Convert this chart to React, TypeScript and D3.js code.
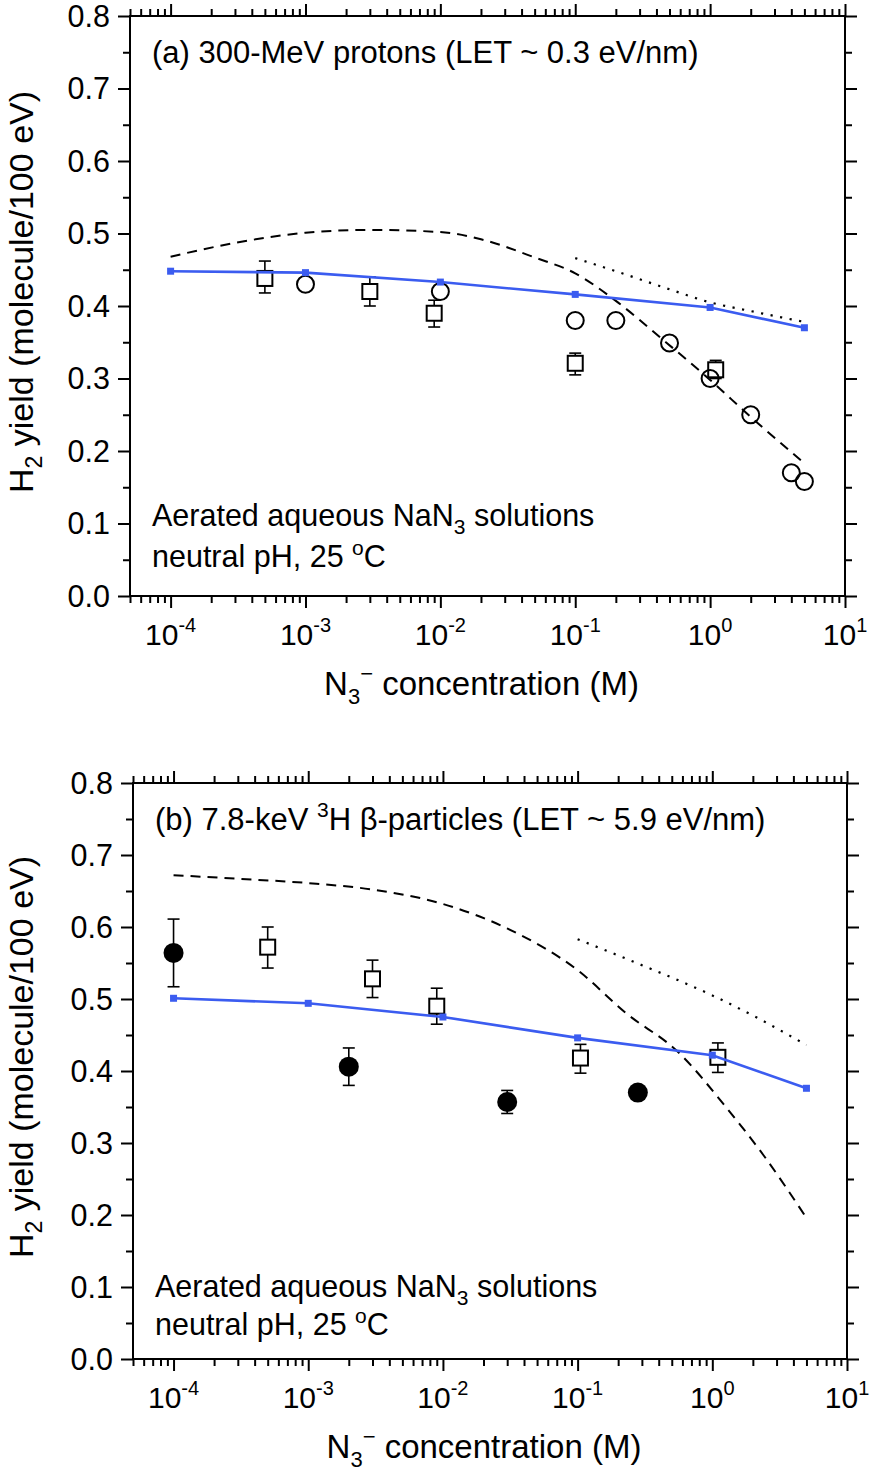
import { useEffect, useRef } from "react";
import * as d3 from "d3";

const BLUE = "#3b5cf0";
const FONT = "'Liberation Sans', Arial, Helvetica, sans-serif";

// ---- panel (a): 300-MeV protons ----
const modelConcA = [1e-4, 1e-3, 1e-2, 1e-1, 1, 5];
const modelYieldA = [0.448, 0.446, 0.433, 0.416, 0.398, 0.37];

const dashConcA = [1e-4, 3e-4, 1e-3, 3e-3, 1e-2, 2e-2, 5e-2, 0.1, 0.2, 0.45, 1, 2, 5];
const dashYieldA = [0.468, 0.487, 0.501, 0.505, 0.502, 0.492, 0.467, 0.445, 0.407, 0.353, 0.298, 0.247, 0.183];

const dotConcA = [0.1, 0.2, 0.5, 1, 2, 5];
const dotYieldA = [0.466, 0.448, 0.423, 0.405, 0.393, 0.378];

const squareConcA = [5e-4, 3e-3, 9e-3, 0.1, 1.1];
const squareYieldA = [0.438, 0.42, 0.39, 0.321, 0.312];
const squareLowA = [0.418, 0.4, 0.371, 0.305, 0.3];
const squareHighA = [0.462, 0.44, 0.408, 0.335, 0.325];

const circleConcA = [1e-3, 1e-2, 0.1, 0.2, 0.5, 1, 2, 4, 5];
const circleYieldA = [0.43, 0.42, 0.38, 0.38, 0.349, 0.3, 0.25, 0.17, 0.158];

// ---- panel (b): 7.8-keV tritium beta-particles ----
const modelConcB = [1e-4, 1e-3, 1e-2, 1e-1, 1, 5];
const modelYieldB = [0.501, 0.494, 0.475, 0.446, 0.422, 0.376];

const dashConcB = [1e-4, 3e-4, 1e-3, 3e-3, 1e-2, 3e-2, 0.1, 0.23, 0.56, 1.26, 2.4, 5];
const dashYieldB = [0.672, 0.667, 0.661, 0.652, 0.632, 0.598, 0.54, 0.48, 0.426, 0.35, 0.283, 0.196];

const dotConcB = [0.1, 0.3, 1, 2.2, 5];
const dotYieldB = [0.583, 0.547, 0.505, 0.473, 0.436];

const squareConcB = [5e-4, 3e-3, 9e-3, 0.105, 1.1];
const squareYieldB = [0.572, 0.528, 0.49, 0.418, 0.419];
const squareLowB = [0.543, 0.502, 0.465, 0.397, 0.398];
const squareHighB = [0.6, 0.554, 0.515, 0.437, 0.439];

const filledConcB = [1e-4, 2e-3, 0.03, 0.28];
const filledYieldB = [0.564, 0.406, 0.357, 0.37];
const filledLowB = [0.517, 0.38, 0.341, 0.37];
const filledHighB = [0.611, 0.432, 0.373, 0.37];

// axes
const yTicks = [0, 0.1, 0.2, 0.3, 0.4, 0.5, 0.6, 0.7, 0.8];
const xDecades = [-4, -3, -2, -1, 0, 1];

const zip = (a: number[], b: number[]) => a.map((v, i) => [v, b[i]] as [number, number]);

const panels = [
  {
    title: [
      { t: "(a) 300-MeV protons (LET ~ 0.3 eV/nm)" },
    ],
    model: zip(modelConcA, modelYieldA),
    dash: zip(dashConcA, dashYieldA),
    dot: zip(dotConcA, dotYieldA),
    squares: squareConcA.map((c, i) => ({ c, v: squareYieldA[i], lo: squareLowA[i], hi: squareHighA[i] })),
    circles: zip(circleConcA, circleYieldA),
    filled: [] as { c: number; v: number; lo: number; hi: number }[],
    box: { left: 130, right: 845, top: 16, bottom: 596 },
    noteY: [-70, -29],
  },
  {
    title: [
      { t: "(b) 7.8-keV " },
      { t: "3", sup: true },
      { t: "H \u03b2-particles (LET ~ 5.9 eV/nm)", reset: true },
    ],
    model: zip(modelConcB, modelYieldB),
    dash: zip(dashConcB, dashYieldB),
    dot: zip(dotConcB, dotYieldB),
    squares: squareConcB.map((c, i) => ({ c, v: squareYieldB[i], lo: squareLowB[i], hi: squareHighB[i] })),
    circles: [] as [number, number][],
    filled: filledConcB.map((c, i) => ({ c, v: filledYieldB[i], lo: filledLowB[i], hi: filledHighB[i] })),
    box: { left: 133, right: 847, top: 783, bottom: 1359 },
    noteY: [-62, -24],
  },
];

const App = () => {
  const svgRef = useRef<SVGSVGElement>(null);

  useEffect(() => {
    if (!svgRef.current) return;
    const svg = d3.select(svgRef.current);
    svg.selectAll("*").remove();

    panels.forEach((p) => {
      const { left, right, top, bottom } = p.box;
      const x = d3.scaleLog().domain([5e-5, 10]).range([left, right]);
      const y = d3.scaleLinear().domain([0, 0.8]).range([bottom, top]);
      const g = svg.append("g").attr("font-family", FONT);

      // ticks
      const all = x.ticks();
      const isMajor = (v: number) => Math.abs(Math.log10(v) - Math.round(Math.log10(v))) < 1e-6;
      const major = all.filter(isMajor);
      const minor = all.filter((v) => !isMajor(v));
      const yMinor = yTicks.slice(0, -1).map((v) => v + 0.05);

      const styleAxis = (sel: d3.Selection<SVGGElement, unknown, null, undefined>) => {
        sel.select(".domain").remove();
        sel.selectAll("line").attr("stroke", "#000").attr("stroke-width", 2);
      };

      const xAxes: [typeof d3.axisBottom, number][] = [
        [d3.axisBottom, bottom],
        [d3.axisTop, top],
      ];
      xAxes.forEach(([fn, pos]) => {
        g.append("g").attr("transform", `translate(0,${pos})`)
          .call(fn(x).tickValues(major).tickSize(12).tickFormat(() => ""))
          .call(styleAxis);
        g.append("g").attr("transform", `translate(0,${pos})`)
          .call(fn(x).tickValues(minor).tickSize(7).tickFormat(() => ""))
          .call(styleAxis);
      });

      g.append("g").attr("transform", `translate(${left},0)`)
        .call(d3.axisLeft(y).tickValues(yTicks).tickSize(12).tickPadding(8).tickFormat(d3.format(".1f")))
        .call(styleAxis)
        .selectAll("text")
        .attr("font-size", 30.5)
        .attr("dy", "0.34em")
        .attr("font-family", FONT)
        .attr("fill", "#000");
      g.append("g").attr("transform", `translate(${left},0)`)
        .call(d3.axisLeft(y).tickValues(yMinor).tickSize(7).tickFormat(() => ""))
        .call(styleAxis);
      g.append("g").attr("transform", `translate(${right},0)`)
        .call(d3.axisRight(y).tickValues(yTicks).tickSize(12).tickFormat(() => ""))
        .call(styleAxis);
      g.append("g").attr("transform", `translate(${right},0)`)
        .call(d3.axisRight(y).tickValues(yMinor).tickSize(7).tickFormat(() => ""))
        .call(styleAxis);

      // frame
      g.append("rect")
        .attr("x", left).attr("y", top)
        .attr("width", right - left).attr("height", bottom - top)
        .attr("fill", "none").attr("stroke", "#000").attr("stroke-width", 2);

      // x tick labels 10^n
      xDecades.forEach((d) => {
        const t = g.append("text")
          .attr("x", x(Math.pow(10, d)))
          .attr("y", bottom + 49)
          .attr("text-anchor", "middle")
          .attr("font-size", 30);
        t.append("tspan").text("10");
        t.append("tspan").attr("font-size", 20).attr("dy", -13).text(d < 0 ? `-${-d}` : `${d}`);
      });

      // axis titles
      const xt = g.append("text")
        .attr("x", (left + right) / 2 - 6)
        .attr("y", bottom + 99)
        .attr("text-anchor", "middle")
        .attr("font-size", 33);
      xt.append("tspan").text("N");
      xt.append("tspan").attr("font-size", 22).attr("dy", 9).text("3");
      xt.append("tspan").attr("font-size", 22).attr("dy", -23).text("\u2212");
      xt.append("tspan").attr("dy", 14).text(" concentration (M)");

      const yt = g.append("text")
        .attr("transform", `translate(33,${(top + bottom) / 2 - 14}) rotate(-90)`)
        .attr("text-anchor", "middle")
        .attr("font-size", 34);
      yt.append("tspan").text("H");
      yt.append("tspan").attr("font-size", 23).attr("dy", 9).text("2");
      yt.append("tspan").attr("dy", -9).text(" yield (molecule/100 eV)");

      // panel title
      const tt = g.append("text")
        .attr("x", left + 22)
        .attr("y", top + 47)
        .attr("font-size", 31);
      p.title.forEach((s: { t: string; sup?: boolean; reset?: boolean }) => {
        const sp = tt.append("tspan").text(s.t);
        if (s.sup) sp.attr("font-size", 21).attr("dy", -13);
        if (s.reset) sp.attr("dy", 13);
      });

      // notes
      const n1 = g.append("text")
        .attr("x", left + 22)
        .attr("y", bottom + p.noteY[0])
        .attr("font-size", 30.5);
      n1.append("tspan").text("Aerated aqueous NaN");
      n1.append("tspan").attr("font-size", 21).attr("dy", 8).text("3");
      n1.append("tspan").attr("dy", -8).text(" solutions");
      const n2 = g.append("text")
        .attr("x", left + 22)
        .attr("y", bottom + p.noteY[1])
        .attr("font-size", 30.5);
      n2.append("tspan").text("neutral pH, 25 ");
      n2.append("tspan").attr("font-size", 21).attr("dy", -12).text("o");
      n2.append("tspan").attr("dy", 12).text("C");

      const line = d3.line<[number, number]>()
        .x((d) => x(d[0]))
        .y((d) => y(d[1]))
        .curve(d3.curveMonotoneX);

      // error bars
      const bars = [...p.squares, ...p.filled].filter((d) => d.hi - d.lo > 0.001);
      const eb = g.append("g").attr("stroke", "#000").attr("stroke-width", 1.6);
      bars.forEach((d) => {
        const cx = x(d.c);
        eb.append("line").attr("x1", cx).attr("x2", cx).attr("y1", y(d.lo)).attr("y2", y(d.hi));
        eb.append("line").attr("x1", cx - 6).attr("x2", cx + 6).attr("y1", y(d.lo)).attr("y2", y(d.lo));
        eb.append("line").attr("x1", cx - 6).attr("x2", cx + 6).attr("y1", y(d.hi)).attr("y2", y(d.hi));
      });

      // open squares
      g.append("g").selectAll("rect")
        .data(p.squares)
        .join("rect")
        .attr("x", (d) => x(d.c) - 7.5)
        .attr("y", (d) => y(d.v) - 7.5)
        .attr("width", 15).attr("height", 15)
        .attr("fill", "#fff").attr("stroke", "#000").attr("stroke-width", 2);

      // filled circles
      g.append("g").selectAll("circle")
        .data(p.filled)
        .join("circle")
        .attr("cx", (d) => x(d.c)).attr("cy", (d) => y(d.v))
        .attr("r", 10).attr("fill", "#000");

      // open circles
      g.append("g").selectAll("circle")
        .data(p.circles)
        .join("circle")
        .attr("cx", (d) => x(d[0])).attr("cy", (d) => y(d[1]))
        .attr("r", 8.5).attr("fill", "none").attr("stroke", "#000").attr("stroke-width", 2);

      // dashed & dotted curves
      g.append("path").attr("d", line(p.dash))
        .attr("fill", "none").attr("stroke", "#000").attr("stroke-width", 2)
        .attr("stroke-dasharray", "10 7");
      g.append("path").attr("d", line(p.dot))
        .attr("fill", "none").attr("stroke", "#000").attr("stroke-width", 2.2)
        .attr("stroke-dasharray", "2.2 7.5");

      // model line
      g.append("path").attr("d", d3.line<[number, number]>().x((d) => x(d[0])).y((d) => y(d[1]))(p.model))
        .attr("fill", "none").attr("stroke", BLUE).attr("stroke-width", 2.6);
      g.append("g").selectAll("rect")
        .data(p.model)
        .join("rect")
        .attr("x", (d) => x(d[0]) - 3.5).attr("y", (d) => y(d[1]) - 3.5)
        .attr("width", 7).attr("height", 7)
        .attr("fill", BLUE);
    });
  }, []);

  return (
    <svg
      ref={svgRef}
      width={871}
      height={1481}
      style={{ position: "absolute", left: 0, top: 0, background: "#fff" }}
    />
  );
};

export default App;
